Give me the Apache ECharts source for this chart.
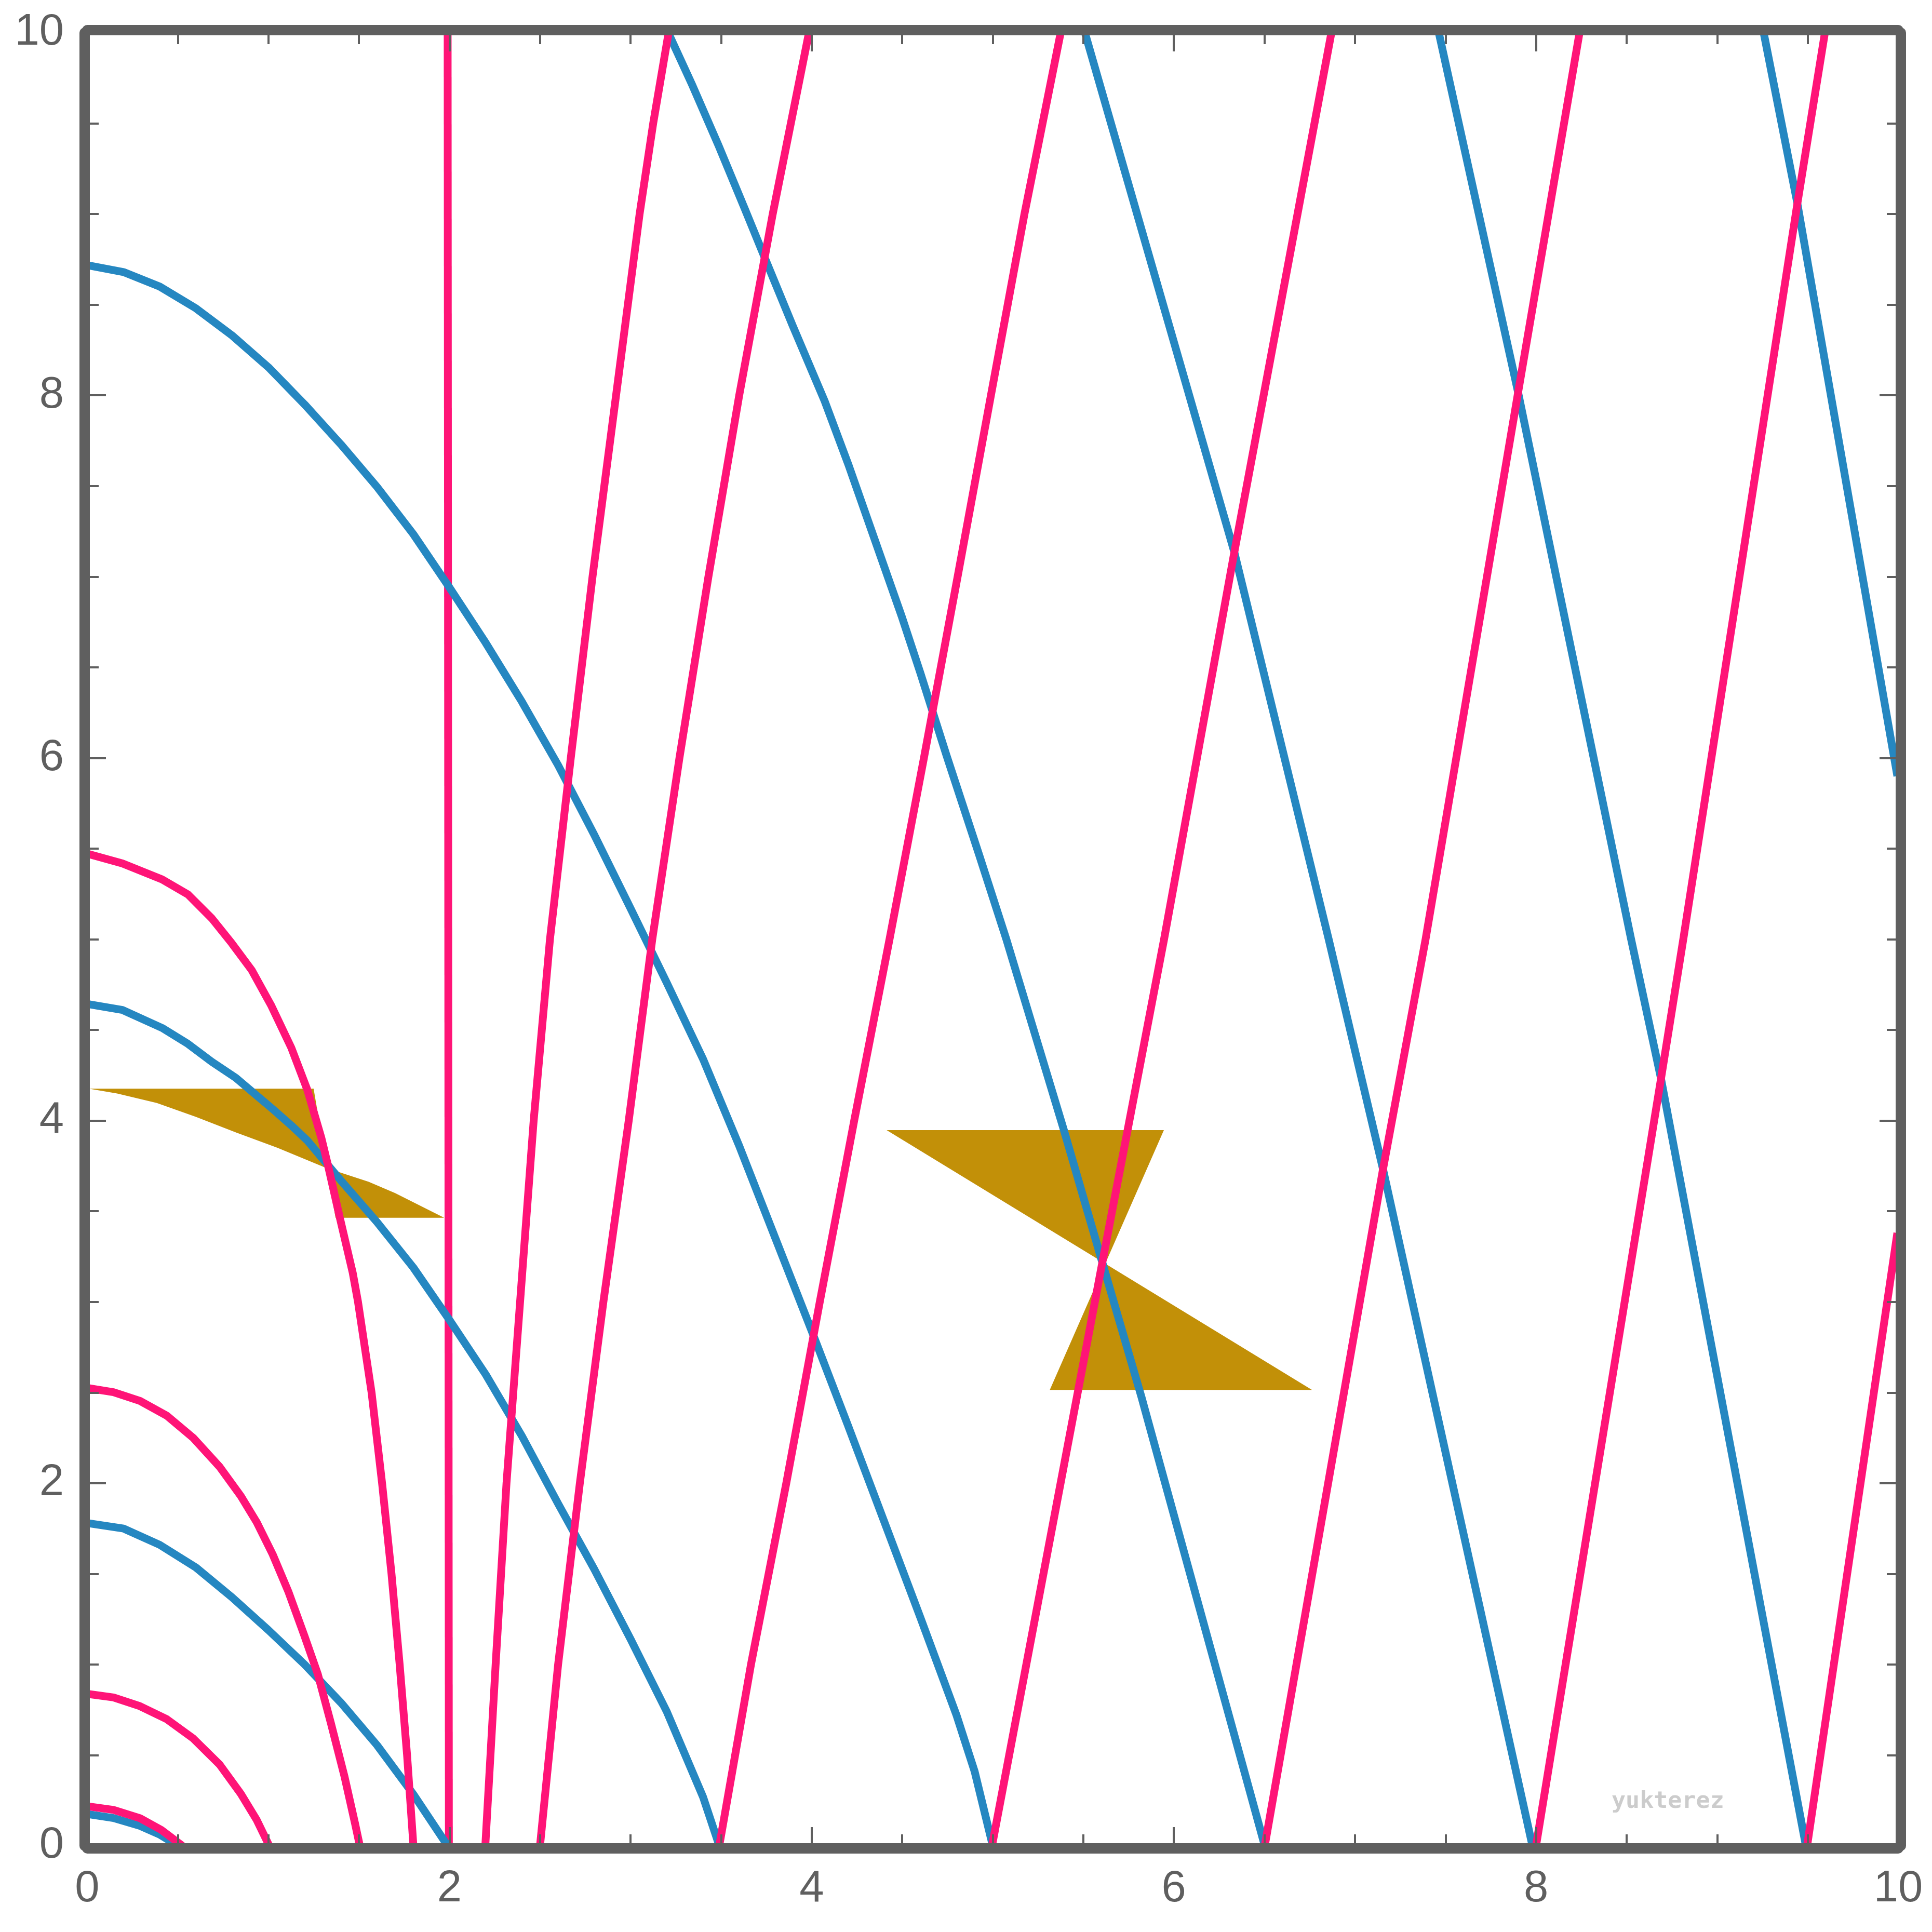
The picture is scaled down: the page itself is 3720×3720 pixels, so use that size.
<!DOCTYPE html>
<html>
<head>
<meta charset="utf-8">
<script src="https://cdn.jsdelivr.net/npm/echarts@6/dist/echarts.min.js"></script>
<style>
html,body{margin:0;padding:0;background:#ffffff;}
#chart{width:3720px;height:3720px;}
</style>
</head>
<body>
<div id="chart"></div>
<script>
// ---- axis settings ----
const axisMin = 0;
const axisMax = 10;
const majorStep = 2;
const tickLabels = ['0', '2', '4', '6', '8', '10'];
const watermark = 'yukterez';

// ---- blue curves ----
const blue1 = [[0,0.175],[0.145,0.153],[0.291,0.11],[0.4,0.062],[0.5,0]];
const blue2 = [[0,1.78],[0.2,1.75],[0.4,1.66],[0.6,1.535],[0.8,1.37],[1.0,1.19],[1.2,1.0],[1.4,0.79],[1.6,0.555],[1.8,0.285],[1.99,0]];
const blue3 = [[0,4.643],[0.194,4.61],[0.413,4.511],[0.556,4.423],[0.688,4.324],[0.82,4.236],[0.93,4.143],[1.028,4.06],[1.127,3.973],[1.215,3.89],[1.4,3.67],[1.6,3.44],[1.8,3.19],[2.0,2.9],[2.2,2.6],[2.4,2.26],[2.6,1.887],[2.8,1.525],[3.0,1.14],[3.2,0.74],[3.4,0.27],[3.49,0]];
const blue4 = [[0,8.718],[0.2,8.68],[0.4,8.6],[0.6,8.48],[0.8,8.33],[1.0,8.155],[1.2,7.95],[1.4,7.73],[1.6,7.495],[1.8,7.235],[2.0,6.94],[2.2,6.635],[2.4,6.31],[2.6,5.96],[2.8,5.575],[3.0,5.17],[3.2,4.76],[3.4,4.34],[3.6,3.86],[3.8,3.35],[4.0,2.84],[4.2,2.32],[4.4,1.79],[4.6,1.26],[4.8,0.72],[4.9,0.41],[5.0,0]];
const blue5 = [[3.208,10],[3.339,9.715],[3.486,9.378],[3.632,9.026],[3.75,8.737],[3.895,8.385],[4.072,7.968],[4.204,7.615],[4.35,7.199],[4.497,6.782],[4.6,6.47],[4.745,6.013],[4.924,5.468],[5.075,5.0],[5.39,3.957],[5.605,3.217],[5.821,2.476],[6.502,0]];
const blue6 = [[5.509,10],[6.334,7.135],[6.855,5.0],[7.155,3.732],[7.98,0]];
const blue7 = [[7.463,10],[7.901,8.016],[8.525,5.0],[8.69,4.231],[9.49,0]];
const blue8 = [[9.257,10],[9.443,9.058],[9.995,5.9]];

// ---- pink curves ----
const pinkVertical = [[1.99,10],[1.997,0]];
const pink1 = [[0,0.218],[0.145,0.198],[0.291,0.152],[0.408,0.088],[0.525,0]];
const pink2 = [[0,0.838],[0.145,0.818],[0.291,0.77],[0.438,0.699],[0.584,0.593],[0.731,0.448],[0.848,0.287],[0.936,0.142],[1.005,0]];
const pink3 = [[0,2.525],[0.145,2.502],[0.291,2.454],[0.438,2.373],[0.584,2.251],[0.731,2.09],[0.848,1.929],[0.936,1.784],[1.024,1.607],[1.112,1.398],[1.2,1.156],[1.273,0.947],[1.346,0.674],[1.42,0.384],[1.478,0.126],[1.505,0]];
const pink4 = [[0,5.472],[0.194,5.418],[0.413,5.33],[0.556,5.247],[0.688,5.115],[0.798,4.978],[0.908,4.83],[1.017,4.632],[1.127,4.401],[1.215,4.17],[1.292,3.907],[1.33,3.75],[1.395,3.463],[1.466,3.16],[1.495,3.0],[1.57,2.5],[1.628,2.0],[1.68,1.5],[1.725,1.0],[1.766,0.5],[1.801,0]];
const pink5 = [[2.198,0],[2.255,1],[2.315,2],[2.39,3],[2.465,4],[2.555,5],[2.67,6],[2.79,7],[2.92,8],[3.05,9],[3.125,9.5],[3.21,10]];
const pink6 = [[2.5,0],[2.6,1],[2.72,2],[2.85,3],[2.99,4],[3.12,5],[3.27,6],[3.43,7],[3.6,8],[3.785,9],[3.985,10]];
const pink7 = [[3.49,0],[3.665,1],[3.86,2],[4.045,3],[4.235,4],[4.43,5],[4.62,6],[4.806,7],[4.99,8],[5.175,9],[5.375,10]];
const pink8 = [[4.996,0],[5.605,3.217],[5.946,5.0],[6.334,7.135],[6.87,10]];
const pink9 = [[6.502,0],[7.155,3.732],[7.39,5.0],[7.901,8.016],[8.24,10]];
const pink10 = [[8.0,0],[8.69,4.231],[8.813,5.0],[9.443,9.058],[9.595,10]];
const pink11 = [[9.497,0],[9.995,3.38]];

// ---- gold shapes ----
const gold1 = [[0.01,4.176],[1.25,4.176],[1.371,3.464],[1.971,3.464],[1.7,3.6],[1.554,3.662],[1.315,3.74],[1.05,3.85],[0.823,3.934],[0.6,4.02],[0.384,4.097],[0.165,4.149]];
const gold2 = [[4.414,3.947],[5.945,3.947],[5.315,2.514],[6.763,2.514]];

// ---- styling ----
const FRAME = '#5f5f5f';
const BLUE = '#2587c1';
const PINK = '#ff1477';
const GOLD = '#c29008';
const LINE_W = 15;

function makeAxis(position, showLabel) {
  return {
    type: 'value',
    position: position,
    min: axisMin,
    max: axisMax,
    interval: majorStep,
    offset: 5,
    z: 10,
    axisLine: { show: true, onZero: false, lineStyle: { color: FRAME, width: 20, cap: 'round' } },
    axisTick: { show: true, inside: true, length: 41, lineStyle: { color: FRAME, width: 4 } },
    minorTick: { show: true, splitNumber: 4, length: 27, lineStyle: { color: FRAME, width: 4 } },
    splitLine: { show: false },
    minorSplitLine: { show: false },
    axisLabel: {
      show: showLabel,
      margin: (position === 'left' ? 40 : 36),
      fontSize: 85,
      fontFamily: '"Liberation Sans", Arial, sans-serif',
      color: FRAME,
      formatter: function (v) { return tickLabels[Math.round((v - axisMin) / majorStep)]; }
    }
  };
}

function lineSeries(name, data, color, z) {
  return {
    name: name,
    type: 'line',
    data: data,
    showSymbol: false,
    symbol: 'none',
    smooth: false,
    silent: true,
    z: z,
    lineStyle: { color: color, width: LINE_W, cap: 'butt', join: 'round' }
  };
}

function polygonSeries(name, points) {
  return {
    name: name,
    type: 'custom',
    silent: true,
    z: 1,
    data: [points[0]],
    renderItem: function (params, api) {
      return {
        type: 'polygon',
        shape: { points: points.map(function (p) { return api.coord(p); }) },
        style: { fill: GOLD, stroke: null }
      };
    }
  };
}

const blueCurves = [blue1, blue2, blue3, blue4, blue5, blue6, blue7, blue8];
const pinkCurves = [pink1, pink2, pink3, pink4, pink5, pink6, pink7, pink8, pink9, pink10, pink11];

const series = [];
series.push(polygonSeries('gold1', gold1));
series.push(polygonSeries('gold2', gold2));
series.push(lineSeries('pinkVertical', pinkVertical, PINK, 2));
blueCurves.forEach(function (c, i) { series.push(lineSeries('blue' + (i + 1), c, BLUE, 3)); });
pinkCurves.forEach(function (c, i) { series.push(lineSeries('pink' + (i + 1), c, PINK, 4)); });

const chart = echarts.init(document.getElementById('chart'), null, { renderer: 'canvas', width: 3720, height: 3720 });
chart.setOption({
  animation: false,
  backgroundColor: '#ffffff',
  grid: { left: 168, right: 65, top: 63, bottom: 166, containLabel: false },
  xAxis: [makeAxis('bottom', true), makeAxis('top', false)],
  yAxis: [makeAxis('left', true), makeAxis('right', false)],
  graphic: [{
    type: 'text',
    left: 3103,
    top: 3447,
    z: 20,
    style: { text: watermark, font: 'bold 45px "DejaVu Sans Mono", monospace', fill: '#cccccc' }
  }],
  series: series
});
</script>
</body>
</html>
